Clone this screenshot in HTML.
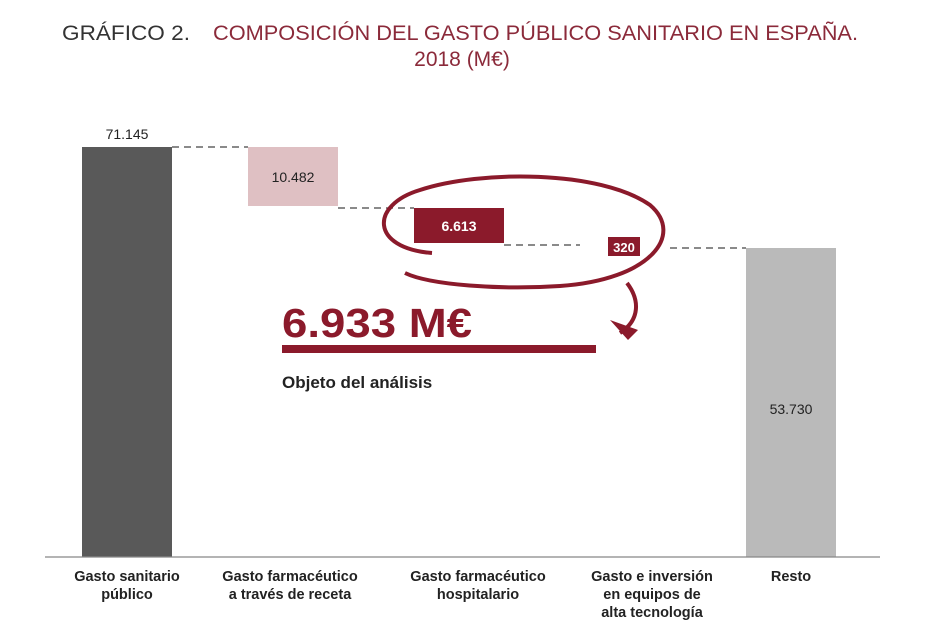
<!DOCTYPE html>
<html><head><meta charset="utf-8"><style>
body{margin:0;background:#fff;width:936px;height:624px;overflow:hidden;font-family:"Liberation Sans",sans-serif}
</style></head><body>
<svg width="936" height="624" xmlns="http://www.w3.org/2000/svg" font-family="Liberation Sans, sans-serif">
<text x="62" y="40" font-size="21" fill="#333" textLength="128" lengthAdjust="spacingAndGlyphs">GRÁFICO 2.</text>
<text x="213" y="40" font-size="21" fill="#8b2a3a" textLength="645" lengthAdjust="spacingAndGlyphs">COMPOSICIÓN DEL GASTO PÚBLICO SANITARIO EN ESPAÑA.</text>
<text x="462" y="66" text-anchor="middle" font-size="21" fill="#8b2a3a">2018 (M€)</text>
<rect x="82" y="147" width="90" height="410" fill="#595959"/>
<text x="127" y="139" text-anchor="middle" font-size="14" fill="#222">71.145</text>
<rect x="248" y="147" width="90" height="59" fill="#dfc0c3"/>
<text x="293" y="182" text-anchor="middle" font-size="14" fill="#222">10.482</text>
<rect x="414" y="208" width="90" height="35" fill="#8b1a2b"/>
<text x="459" y="231" text-anchor="middle" font-size="14" font-weight="bold" fill="#fff">6.613</text>
<rect x="608" y="237" width="32" height="19" fill="#8b1a2b"/>
<text x="624" y="252" text-anchor="middle" font-size="13" font-weight="bold" fill="#fff">320</text>
<rect x="746" y="248" width="90" height="309" fill="#bababa"/>
<text x="791" y="414" text-anchor="middle" font-size="14" fill="#222">53.730</text>
<g stroke="#444" stroke-width="1.3" stroke-dasharray="7,5">
<line x1="172" y1="147" x2="248" y2="147"/>
<line x1="338" y1="208" x2="414" y2="208"/>
<line x1="504" y1="245" x2="580" y2="245"/>
<line x1="670" y1="248" x2="746" y2="248"/>
</g>
<line x1="45" y1="557" x2="880" y2="557" stroke="#888" stroke-width="1.2"/>
<g fill="none" stroke="#8b1a2b" stroke-width="4">
<path d="M432 253 C 370 248, 370 205, 420 190 C 480 170, 600 170, 650 205 C 685 235, 650 280, 560 286 C 500 290, 430 285, 405 273"/>
<path d="M627 283 C 640 300, 640 320, 620 333"/>
</g>
<path d="M610 320 L628 340 L638 330 Z" fill="#8b1a2b"/>
<text x="282" y="337" font-size="41" font-weight="bold" fill="#8b1a2b" textLength="190" lengthAdjust="spacingAndGlyphs">6.933 M€</text>
<rect x="282" y="345" width="314" height="8" fill="#8b1a2b"/>
<text x="282" y="388" font-size="17" font-weight="bold" fill="#222">Objeto del análisis</text>
<g font-size="14.5" font-weight="bold" fill="#222" text-anchor="middle">
<text x="127" y="581">Gasto sanitario</text><text x="127" y="599">público</text>
<text x="290" y="581">Gasto farmacéutico</text><text x="290" y="599">a través de receta</text>
<text x="478" y="581">Gasto farmacéutico</text><text x="478" y="599">hospitalario</text>
<text x="652" y="581">Gasto e inversión</text><text x="652" y="599">en equipos de</text><text x="652" y="617">alta tecnología</text>
<text x="791" y="581">Resto</text>
</g>
</svg>
</body></html>
